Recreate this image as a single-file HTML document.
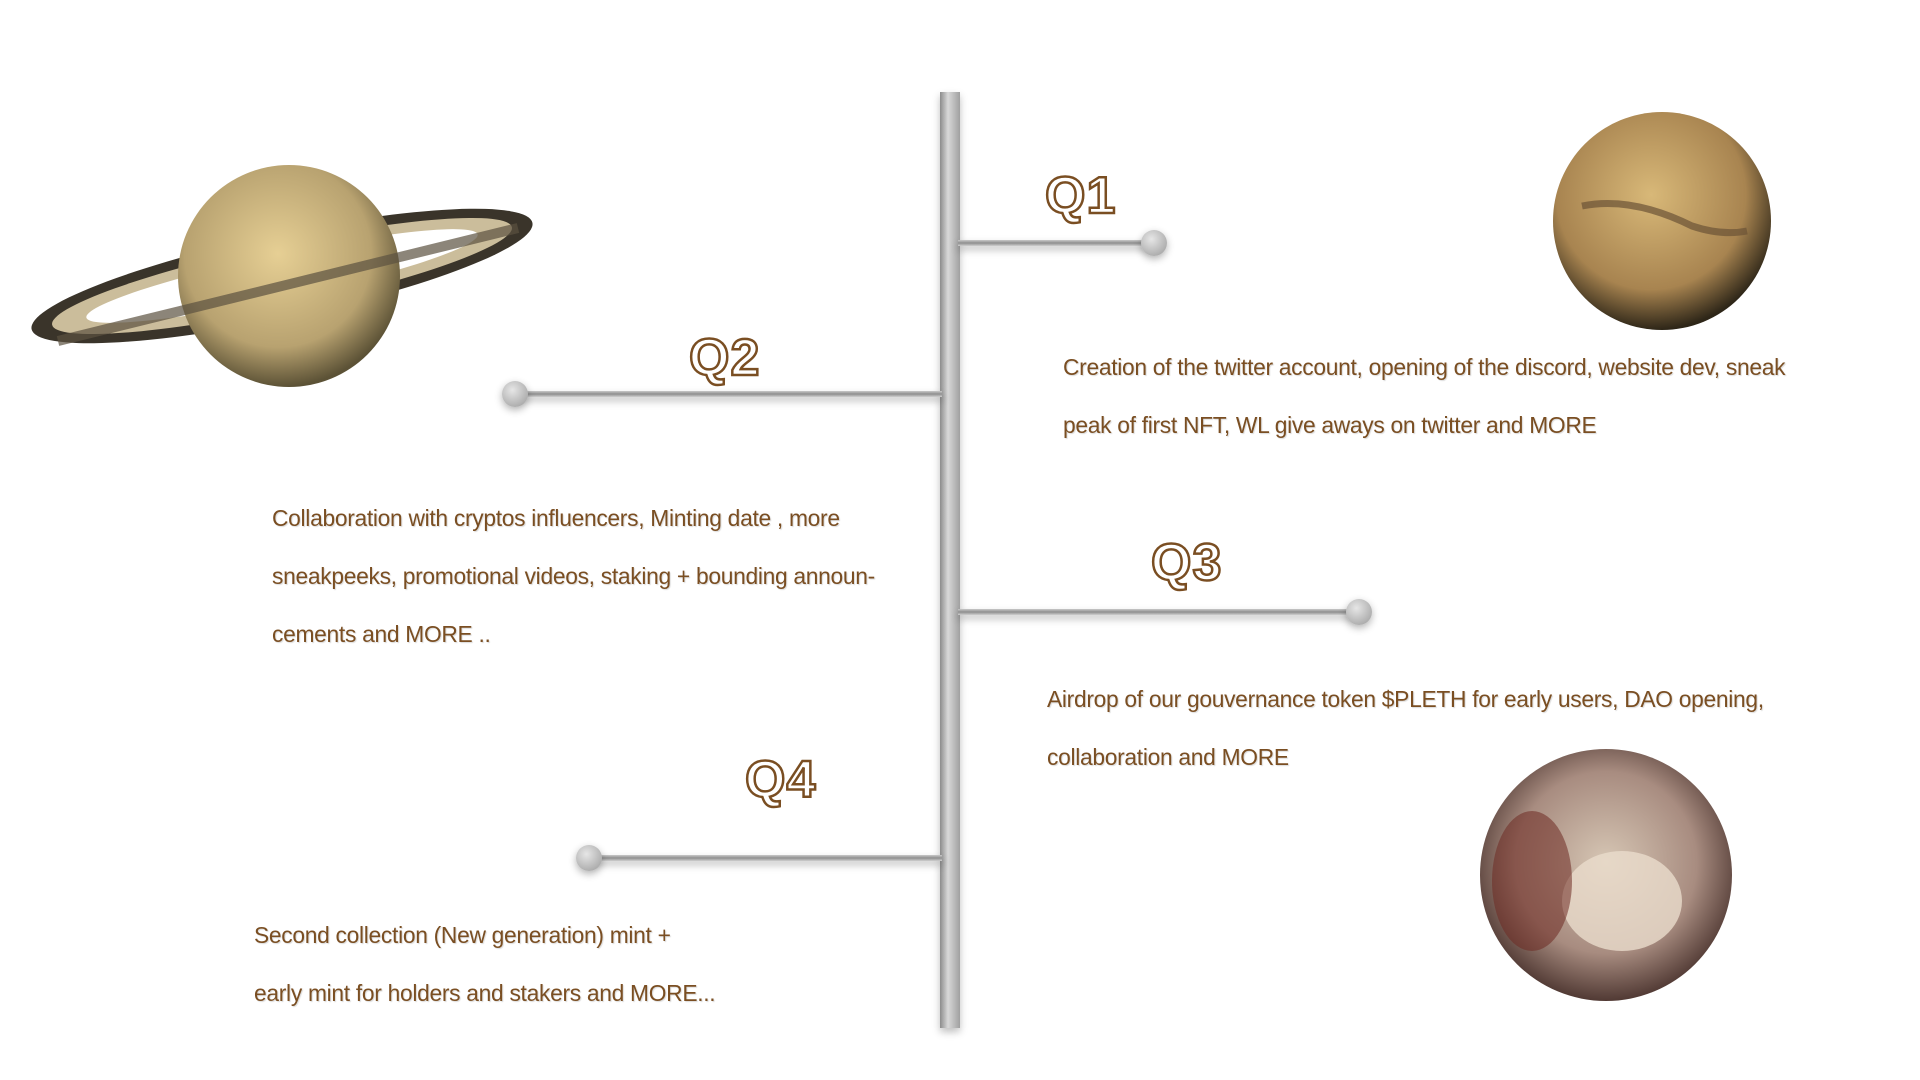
<!DOCTYPE html>
<html><head><meta charset="utf-8"><style>
html,body{margin:0;padding:0;background:#fff;}
#stage{position:relative;width:1920px;height:1080px;overflow:hidden;background:#fff;font-family:"Liberation Sans","DejaVu Sans",sans-serif;}
#inner{position:absolute;left:-10px;top:-4px;width:1920px;height:1080px;}
.q{position:absolute;font-size:52px;font-weight:bold;color:#fff;-webkit-text-stroke:2.5px #7a4e22;letter-spacing:1px;line-height:1;}
.p{position:absolute;font-size:22.8px;color:#7a4e22;line-height:58px;text-shadow:1px 1px 1px rgba(0,0,0,0.15);letter-spacing:-0.3px;white-space:nowrap;}
.bar{position:absolute;background:linear-gradient(#c9c9c9,#8e8e8e,#cfcfcf);box-shadow:0 4px 8px rgba(0,0,0,0.25);}
.knob{position:absolute;width:26px;height:26px;border-radius:50%;background:radial-gradient(circle at 40% 35%,#e6e6e6,#9a9a9a);box-shadow:0 3px 8px rgba(0,0,0,0.3);}
</style></head><body>
<div id="stage">
<div id="inner">
<div class="bar" style="left:950px;top:96px;width:20px;height:936px;background:linear-gradient(90deg,#8c8c8c,#d8d8d8 40%,#a0a0a0);"></div>

<div class="bar" style="left:968px;top:244px;width:195px;height:6px;"></div>
<div class="knob" style="left:1151px;top:234px;"></div>
<div class="q" style="left:1055px;top:174px;">Q1</div>
<div class="p" style="left:1073px;top:342px;">Creation of the twitter account, opening of the discord, website dev, sneak<br>peak of first NFT, WL give aways on twitter and MORE</div>

<div class="bar" style="left:526px;top:395px;width:426px;height:6px;"></div>
<div class="knob" style="left:512px;top:385px;"></div>
<div class="q" style="left:699px;top:336px;">Q2</div>
<div class="p" style="left:282px;top:493px;">Collaboration with cryptos influencers, Minting date , more<br>sneakpeeks, promotional videos, staking + bounding announ-<br>cements and MORE ..</div>

<div class="bar" style="left:968px;top:613px;width:400px;height:6px;"></div>
<div class="knob" style="left:1356px;top:603px;"></div>
<div class="q" style="left:1161px;top:541px;">Q3</div>
<div class="p" style="left:1057px;top:674px;">Airdrop of our gouvernance token $PLETH for early users, DAO opening,<br>collaboration and MORE</div>

<div class="bar" style="left:600px;top:859px;width:352px;height:6px;"></div>
<div class="knob" style="left:586px;top:849px;"></div>
<div class="q" style="left:755px;top:758px;">Q4</div>
<div class="p" style="left:264px;top:910px;">Second collection (New generation) mint +<br>early mint for holders and stakers and MORE...</div>

<svg style="position:absolute;left:8px;top:140px" width="560" height="280" viewBox="0 0 560 280">
<defs><radialGradient id="sg" cx="45%" cy="40%" r="60%"><stop offset="0" stop-color="#e6cf94"/><stop offset="0.7" stop-color="#b8a270"/><stop offset="1" stop-color="#5c5236"/></radialGradient></defs>
<ellipse cx="284" cy="140" rx="256" ry="42" transform="rotate(-12 284 140)" fill="#3a342a"/>
<ellipse cx="284" cy="140" rx="235" ry="32" transform="rotate(-12 284 140)" fill="#cbbd9b"/>
<ellipse cx="284" cy="140" rx="200" ry="22" transform="rotate(-12 284 140)" fill="#fff"/>
<circle cx="291" cy="140" r="111" fill="url(#sg)"/>
<path d="M60 205 Q284 150 520 92" stroke="#5b5140" stroke-width="10" fill="none" opacity="0.7"/>
</svg>

<svg style="position:absolute;left:1552px;top:105px" width="240" height="240">
<defs><radialGradient id="mg" cx="45%" cy="38%" r="62%"><stop offset="0" stop-color="#d8b878"/><stop offset="0.7" stop-color="#a88450"/><stop offset="1" stop-color="#2e2618"/></radialGradient></defs>
<circle cx="120" cy="120" r="109" fill="url(#mg)"/>
<path d="M40 105 Q90 95 150 125 Q180 135 205 130" stroke="#6b5236" stroke-width="7" fill="none" opacity="0.7"/>
</svg>

<svg style="position:absolute;left:1482px;top:745px" width="270" height="270">
<defs><radialGradient id="pg" cx="50%" cy="45%" r="60%"><stop offset="0" stop-color="#d6c6b4"/><stop offset="0.6" stop-color="#a88c80"/><stop offset="1" stop-color="#3a2420"/></radialGradient></defs>
<circle cx="134" cy="134" r="126" fill="url(#pg)"/>
<ellipse cx="150" cy="160" rx="60" ry="50" fill="#eadccc" opacity="0.8"/>
<ellipse cx="60" cy="140" rx="40" ry="70" fill="#6e2a22" opacity="0.55"/>
</svg>
</div>
</div>
</body></html>
